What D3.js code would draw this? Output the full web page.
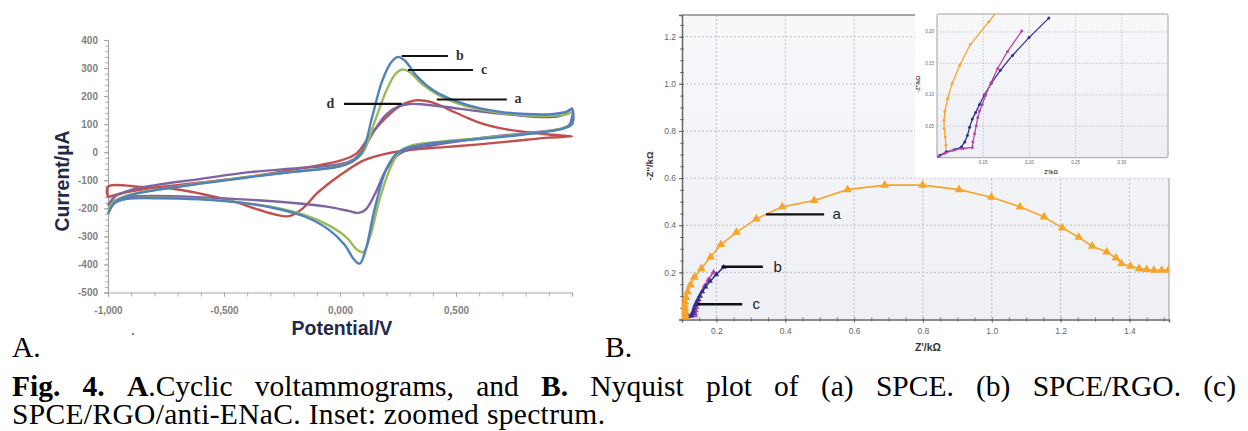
<!DOCTYPE html>
<html>
<head>
<meta charset="utf-8">
<script src="https://cdn.jsdelivr.net/npm/d3@7"></script>
<style>
  body { margin: 0; background: #fff; }
  svg { display: block; }
</style>
</head>
<body>
<div id="chart"></div>
<script>
// ---- Panel A: cyclic voltammograms (potential V, current uA), loop = forward then reverse scan
const cvA = [[-1,-160],[-0.95,-148],[-0.85,-132],[-0.75,-122],[-0.6,-108],[-0.4,-88],[-0.2,-62],[0,-30],[0.07,-5],[0.13,60],[0.2,125],[0.26,165],[0.33,185],[0.4,177],[0.47,152],[0.55,122],[0.62,100],[0.7,84],[0.8,72],[0.9,63],[1,57],
  [0.9,52],[0.75,40],[0.6,28],[0.45,18],[0.3,8],[0.2,-5],[0.1,-30],[0.03,-65],[-0.03,-100],[-0.1,-147],[-0.16,-200],[-0.22,-228],[-0.28,-222],[-0.35,-205],[-0.45,-178],[-0.6,-148],[-0.72,-130],[-0.85,-124],[-1,-123],[-1,-160]];
const cvB = [[-1,-220],[-0.97,-178],[-0.9,-152],[-0.8,-136],[-0.6,-112],[-0.4,-90],[-0.2,-70],[0,-50],[0.06,-30],[0.1,10],[0.14,130],[0.18,250],[0.22,320],[0.25,340],[0.28,326],[0.33,272],[0.4,222],[0.5,182],[0.6,157],[0.7,143],[0.8,136],[0.9,135],[0.97,143],[1,152],
  [1,100],[0.96,84],[0.8,64],[0.6,47],[0.4,32],[0.3,17],[0.25,0],[0.2,-60],[0.15,-200],[0.11,-350],[0.085,-397],[0.06,-382],[0.02,-330],[-0.05,-275],[-0.15,-230],[-0.3,-196],[-0.45,-178],[-0.6,-168],[-0.8,-164],[-0.92,-166],[-0.97,-180],[-1,-220]];
const cvC = [[-1,-205],[-0.97,-172],[-0.9,-150],[-0.8,-135],[-0.6,-110],[-0.4,-88],[-0.2,-69],[0,-49],[0.06,-30],[0.1,0],[0.15,110],[0.2,220],[0.24,280],[0.27,295],[0.3,286],[0.35,246],[0.42,206],[0.5,176],[0.6,153],[0.7,140],[0.8,132],[0.9,130],[0.97,134],[1,140],
  [1,100],[0.96,86],[0.8,66],[0.6,50],[0.4,35],[0.3,22],[0.26,5],[0.22,-50],[0.17,-170],[0.13,-300],[0.1,-356],[0.07,-345],[0.03,-305],[-0.05,-260],[-0.15,-224],[-0.3,-194],[-0.45,-177],[-0.6,-167],[-0.8,-162],[-0.92,-166],[-0.97,-180],[-1,-205]];
const cvD = [[-1,-190],[-0.97,-158],[-0.9,-134],[-0.8,-118],[-0.6,-95],[-0.4,-72],[-0.2,-58],[0,-43],[0.06,-25],[0.1,10],[0.15,80],[0.2,135],[0.25,163],[0.3,172],[0.35,171],[0.45,162],[0.6,146],[0.75,133],[0.85,126],[0.92,126],[0.97,136],[1,156],
  [0.99,100],[0.95,82],[0.85,72],[0.6,50],[0.4,25],[0.3,10],[0.25,-10],[0.2,-60],[0.15,-150],[0.11,-205],[0.08,-216],[0.04,-210],[-0.05,-195],[-0.2,-181],[-0.4,-169],[-0.6,-161],[-0.8,-156],[-0.92,-160],[-0.97,-172],[-1,-190]];
const cvYTicks = [400, 300, 200, 100, 0, -100, -200, -300, -400, -500];
const cvXTicks = [-1, -0.5, 0, 0.5];
const cvXTickLabels = ["-1,000", "-0,500", "0,000", "0,500"];

// ---- Panel B: Nyquist plot (Z' kOhm, -Z'' kOhm)
const nyqA = [[0.103,0.002],[0.1096,0.009],[0.1096,0.020],[0.109,0.033],[0.1078,0.046],[0.1075,0.059],[0.1086,0.074],[0.1114,0.094],[0.1164,0.118],[0.1246,0.147],[0.136,0.180],[0.156,0.216],[0.183,0.265],[0.213,0.318],[0.258,0.370],[0.316,0.427],[0.391,0.478],[0.484,0.505],[0.581,0.551],[0.689,0.570],[0.799,0.570],[0.905,0.551],[0.999,0.519],[1.082,0.478],[1.152,0.435],[1.205,0.389],[1.253,0.349],[1.292,0.311],[1.334,0.287],[1.361,0.261],[1.377,0.237],[1.403,0.226],[1.428,0.216],[1.450,0.212],[1.471,0.209],[1.494,0.209],[1.513,0.209]];
const nyqB = [[0.1,0.0006],[0.1032,0.0037],[0.1104,0.0093],[0.1193,0.013],[0.1264,0.017],[0.13,0.025],[0.1329,0.0354],[0.1353,0.0483],[0.1382,0.0614],[0.1418,0.0717],[0.146,0.0847],[0.1514,0.100],[0.1586,0.118],[0.1685,0.139],[0.1817,0.1626],[0.1996,0.191],[0.221,0.222]];
const nyqC = [[0.1014,0.0016],[0.1086,0.0069],[0.1175,0.012],[0.1282,0.0146],[0.1382,0.0162],[0.1389,0.025],[0.1407,0.038],[0.1425,0.051],[0.1442,0.0639],[0.146,0.0743],[0.149,0.0847],[0.1525,0.0992],[0.1586,0.1195],[0.1656,0.1418],[0.1764,0.169],[0.1918,0.2016]];
const nyqXTicks = [0.2, 0.4, 0.6, 0.8, 1.0, 1.2, 1.4];
const nyqYTicks = [0.2, 0.4, 0.6, 0.8, 1.0, 1.2];
const insetXTicks = [0.15, 0.20, 0.25, 0.30];
const insetYTicks = [0.05, 0.10, 0.15, 0.20];

const colors = { a: "#c0504d", b: "#4f81bd", c: "#9bbb59", d: "#8064a2" };
const nyqColors = { a: "#f7a52a", b: "#2e3192", c: "#b8479f" };

const svg = d3.select("#chart").append("svg")
  .attr("width", 1248).attr("height", 431)
  .style("font-family", "'Liberation Sans', Arial, sans-serif");

// ===================== Panel A =====================
const xCv = d3.scaleLinear().domain([-1, 1]).range([108, 572]);
const yCv = d3.scaleLinear().domain([-500, 400]).range([292.5, 40]);

const gA = svg.append("g");

// minor ticks
gA.append("g").attr("transform", "translate(108,0)")
  .call(d3.axisLeft(yCv).tickValues(d3.range(-500, 401, 20)).tickSize(3).tickFormat(""))
  .call(g => g.select(".domain").remove())
  .selectAll("line").attr("stroke", "#b0b0b0");
gA.append("g").attr("transform", "translate(0,292.5)")
  .call(d3.axisBottom(xCv).tickValues(d3.range(-10, 11).map(d => d / 10)).tickSize(4).tickFormat(""))
  .call(g => g.select(".domain").remove())
  .selectAll("line").attr("stroke", "#b0b0b0");

const yAxA = gA.append("g").attr("transform", "translate(108,0)")
  .call(d3.axisLeft(yCv).tickValues(cvYTicks).tickSize(4).tickPadding(6).tickFormat(d => d));
const xAxA = gA.append("g").attr("transform", "translate(0,292.5)")
  .call(d3.axisBottom(xCv).tickValues(cvXTicks).tickSize(4).tickPadding(10)
    .tickFormat((d, i) => cvXTickLabels[i]));
[yAxA, xAxA].forEach(ax => {
  ax.select(".domain").attr("stroke", "#a6a6a6").attr("stroke-width", 1.2);
  ax.selectAll(".tick line").attr("stroke", "#a6a6a6");
  ax.selectAll("text").attr("fill", "#7f7f7f").style("font-size", "10px").style("font-weight", "bold");
});

const lineCv = d3.line().x(d => xCv(d[0])).y(d => yCv(d[1])).curve(d3.curveCatmullRom.alpha(0.5));
[["a", cvA], ["d", cvD], ["c", cvC], ["b", cvB]].forEach(([k, data]) => {
  gA.append("path").attr("d", lineCv(data)).attr("fill", "none")
    .attr("stroke", colors[k]).attr("stroke-width", 2.4).attr("stroke-linejoin", "round");
});

// curve labels a-d
const cvNotes = [
  { t: "b", x0: 0.266, x1: 0.465, y: 343, tx: 0.500 },
  { t: "c", x0: 0.293, x1: 0.573, y: 293, tx: 0.608 },
  { t: "a", x0: 0.417, x1: 0.719, y: 188, tx: 0.752 },
  { t: "d", x0: 0.017, x1: 0.266, y: 172, tx: -0.058 }
];
cvNotes.forEach(n => {
  gA.append("line").attr("x1", xCv(n.x0)).attr("x2", xCv(n.x1))
    .attr("y1", yCv(n.y)).attr("y2", yCv(n.y)).attr("stroke", "#111").attr("stroke-width", 2.2);
  gA.append("text").attr("x", xCv(n.tx)).attr("y", yCv(n.y) + 4)
    .style("font-family", "'Liberation Serif', 'Times New Roman', serif")
    .style("font-weight", "bold").style("font-size", "14px").attr("fill", "#333").text(n.t);
});

gA.append("text").attr("transform", "translate(69,181) rotate(-90)")
  .attr("text-anchor", "middle").style("font-size", "19.5px").style("font-weight", "bold")
  .attr("fill", "#1f2a48").text("Current/µA");
gA.append("text").attr("x", 342).attr("y", 335)
  .attr("text-anchor", "middle").style("font-size", "19.5px").style("font-weight", "bold")
  .attr("fill", "#1f2a48").text("Potential/V");
gA.append("circle").attr("cx", 133).attr("cy", 334).attr("r", 1).attr("fill", "#555");

// ===================== Panel B =====================
const xNy = d3.scaleLinear().domain([0.1, 1.515]).range([682, 1169]);
const yNy = d3.scaleLinear().domain([0, 1.292]).range([319.5, 15]);

const defs = svg.append("defs");
const grad = defs.append("linearGradient").attr("id", "bg").attr("x1", 0).attr("y1", 0).attr("x2", 0).attr("y2", 1);
grad.append("stop").attr("offset", "0%").attr("stop-color", "#f8f8fb");
grad.append("stop").attr("offset", "100%").attr("stop-color", "#eef0f5");
defs.append("clipPath").attr("id", "clipMain").append("rect")
  .attr("x", 682).attr("y", 15).attr("width", 1169 - 682).attr("height", 304.5);

const gB = svg.append("g");
gB.append("rect").attr("x", 682).attr("y", 15).attr("width", 1169 - 682).attr("height", 304.5)
  .attr("fill", "url(#bg)");

// grid
gB.append("g").selectAll("line").data(nyqXTicks).join("line")
  .attr("x1", d => xNy(d)).attr("x2", d => xNy(d)).attr("y1", 15).attr("y2", 319.5)
  .attr("stroke", "#b9bcc8").attr("stroke-dasharray", "2,2");
gB.append("g").selectAll("line").data(nyqYTicks).join("line")
  .attr("y1", d => yNy(d)).attr("y2", d => yNy(d)).attr("x1", 682).attr("x2", 1169)
  .attr("stroke", "#b9bcc8").attr("stroke-dasharray", "2,2");

gB.append("line").attr("x1", 682).attr("x2", 1169).attr("y1", 15).attr("y2", 15)
  .attr("stroke", "#8a8a8a").attr("stroke-width", 1.5);
gB.append("line").attr("x1", 1169).attr("x2", 1169).attr("y1", 15).attr("y2", 319.5)
  .attr("stroke", "#9a9a9a").attr("stroke-width", 1);

// minor ticks
gB.append("g").attr("transform", "translate(682,0)")
  .call(d3.axisLeft(yNy).tickValues(d3.range(0, 1.29, 0.05)).tickSizeInner(2).tickSizeOuter(0).tickFormat(""))
  .call(g => g.select(".domain").remove())
  .selectAll("line").attr("stroke", "#777").attr("x2", 2).attr("x1", -2);
gB.append("g").attr("transform", "translate(0,319.5)")
  .call(d3.axisBottom(xNy).tickValues(d3.range(0.1, 1.52, 0.05)).tickSizeInner(2).tickSizeOuter(0).tickFormat(""))
  .call(g => g.select(".domain").remove())
  .selectAll("line").attr("stroke", "#777").attr("y1", -2).attr("y2", 2);

const yAxB = gB.append("g").attr("transform", "translate(682,0)")
  .call(d3.axisLeft(yNy).tickValues(nyqYTicks).tickSize(3).tickPadding(3).tickFormat(d3.format(".1f")));
const xAxB = gB.append("g").attr("transform", "translate(0,319.5)")
  .call(d3.axisBottom(xNy).tickValues(nyqXTicks).tickSize(3).tickPadding(5).tickFormat(d3.format(".1f")));
[yAxB, xAxB].forEach(ax => {
  ax.select(".domain").attr("stroke", "#666").attr("stroke-width", 1.5);
  ax.selectAll(".tick line").attr("stroke", "#666");
  ax.selectAll("text").attr("fill", "#666").style("font-size", "8.5px");
});

const lineNy = d3.line().x(d => xNy(d[0])).y(d => yNy(d[1]));
const tri = d3.symbol().type(d3.symbolTriangle);
const plotB = gB.append("g").attr("clip-path", "url(#clipMain)");
[["c", nyqC, 14], ["b", nyqB, 14], ["a", nyqA, 34]].forEach(([k, data, sz]) => {
  plotB.append("path").attr("d", lineNy(data)).attr("fill", "none")
    .attr("stroke", nyqColors[k]).attr("stroke-width", 1.6);
  plotB.append("g").selectAll("path").data(data).join("path")
    .attr("transform", d => `translate(${xNy(d[0])},${yNy(d[1])})`)
    .attr("d", tri.size(sz)()).attr("fill", nyqColors[k]);
});

const nyqNotes = [
  { t: "a", x0: 0.344, x1: 0.513, y: 0.446, tx: 0.537 },
  { t: "b", x0: 0.215, x1: 0.335, y: 0.224, tx: 0.366 },
  { t: "c", x0: 0.144, x1: 0.275, y: 0.0645, tx: 0.305 }
];
nyqNotes.forEach(n => {
  gB.append("line").attr("x1", xNy(n.x0)).attr("x2", xNy(n.x1))
    .attr("y1", yNy(n.y)).attr("y2", yNy(n.y)).attr("stroke", "#111").attr("stroke-width", 2.4);
  gB.append("text").attr("x", xNy(n.tx)).attr("y", yNy(n.y) + 5)
    .style("font-size", "15px").attr("fill", "#222").text(n.t);
});

gB.append("text").attr("transform", "translate(653,166) rotate(-90)")
  .attr("text-anchor", "middle").style("font-size", "9.5px").style("font-weight", "bold")
  .attr("fill", "#333").text("-Z''/kΩ");
gB.append("text").attr("x", 928).attr("y", 351)
  .attr("text-anchor", "middle").style("font-size", "10.5px").style("font-weight", "bold")
  .attr("fill", "#333").text("Z'/kΩ");

// ---- inset
const xIn = d3.scaleLinear().domain([0.1, 0.35]).range([937, 1168]);
const yIn = d3.scaleLinear().domain([0, 0.2285]).range([157.7, 14]);
defs.append("clipPath").attr("id", "clipIn").append("rect")
  .attr("x", 937).attr("y", 14).attr("width", 231).attr("height", 143.7);

const gI = svg.append("g");
gI.append("rect").attr("x", 915).attr("y", 0).attr("width", 290).attr("height", 178).attr("fill", "#fff");
gI.append("rect").attr("x", 937).attr("y", 14).attr("width", 231).attr("height", 143.7)
  .attr("fill", "url(#bg)").attr("stroke", "#a0a0a0").attr("stroke-width", 1).attr("rx", 1.5);
gI.append("g").selectAll("line").data(insetXTicks).join("line")
  .attr("x1", d => xIn(d)).attr("x2", d => xIn(d)).attr("y1", 14).attr("y2", 157.7)
  .attr("stroke", "#c3c6d2").attr("stroke-dasharray", "1.5,1.5");
gI.append("g").selectAll("line").data(insetYTicks).join("line")
  .attr("y1", d => yIn(d)).attr("y2", d => yIn(d)).attr("x1", 937).attr("x2", 1168)
  .attr("stroke", "#c3c6d2").attr("stroke-dasharray", "1.5,1.5");
gI.append("g").selectAll("text").data(insetXTicks).join("text")
  .attr("x", d => xIn(d)).attr("y", 164).attr("text-anchor", "middle")
  .style("font-size", "4.5px").attr("fill", "#666").text(d => d3.format(".2f")(d));
gI.append("g").selectAll("text").data(insetYTicks).join("text")
  .attr("x", 934).attr("y", d => yIn(d) + 1.5).attr("text-anchor", "end")
  .style("font-size", "4.5px").attr("fill", "#666").text(d => d3.format(".2f")(d));
gI.append("text").attr("x", 1051).attr("y", 174).attr("text-anchor", "middle")
  .style("font-size", "5.5px").style("font-weight", "bold").attr("fill", "#444").text("Z'/kΩ");
gI.append("text").attr("transform", "translate(920,84) rotate(-90)").attr("text-anchor", "middle")
  .style("font-size", "5.5px").style("font-weight", "bold").attr("fill", "#444").text("-Z''/kΩ");

const lineIn = d3.line().x(d => xIn(d[0])).y(d => yIn(d[1]));
const plotI = gI.append("g").attr("clip-path", "url(#clipIn)");
[["a", nyqA], ["b", nyqB], ["c", nyqC]].forEach(([k, data]) => {
  plotI.append("path").attr("d", lineIn(data)).attr("fill", "none")
    .attr("stroke", nyqColors[k]).attr("stroke-width", 1.3);
  plotI.append("g").selectAll("circle").data(data).join("circle")
    .attr("cx", d => xIn(d[0])).attr("cy", d => yIn(d[1])).attr("r", 1.5).attr("fill", nyqColors[k]);
});

// ===================== Caption =====================
const serif = "'Liberation Serif', 'Times New Roman', serif";
const cap = svg.append("g").style("font-family", serif).style("font-size", "29.5px").attr("fill", "#000");
cap.append("text").attr("x", 12).attr("y", 357).text("A.");
cap.append("text").attr("x", 605).attr("y", 357).text("B.");

const line1 = cap.append("text").attr("x", 12).attr("y", 396);
[["Fig. 4.", true], [" ", false], ["A", true], [".Cyclic voltammograms, and ", false], ["B.", true],
 [" Nyquist plot of (a) SPCE. (b) SPCE/RGO. (c)", false]].forEach(([t, b]) => {
  line1.append("tspan").style("font-weight", b ? "bold" : "normal").text(t);
});
const natural = line1.node().getComputedTextLength();
const spaces = line1.text().split(" ").length - 1;
line1.attr("word-spacing", (1236 - 12 - natural) / spaces);

const line2 = cap.append("text").attr("x", 12).attr("y", 424).text("SPCE/RGO/anti-ENaC. Inset: zoomed spectrum.");
line2.attr("textLength", 593).attr("lengthAdjust", "spacing");
</script>
</body>
</html>
